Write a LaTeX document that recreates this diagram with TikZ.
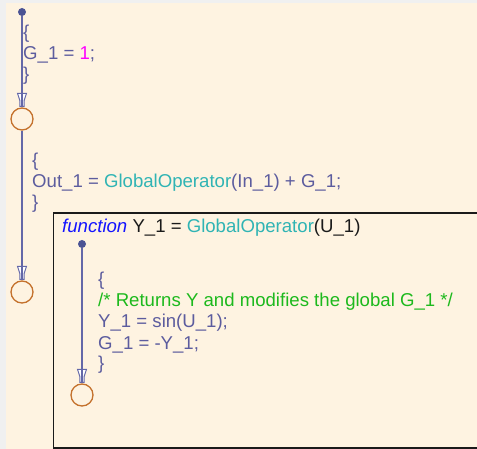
\documentclass[tikz,border=0pt]{standalone}
\usepackage{fontspec}
\setmainfont{Liberation Sans}
\definecolor{bggray}{HTML}{F0F0F0}
\definecolor{cream}{HTML}{FEF3E1}
\definecolor{codepurple}{HTML}{5C5C9E}
\definecolor{trblue}{HTML}{6468A8}
\definecolor{dotblue}{HTML}{4B5394}
\definecolor{juncorange}{HTML}{C4712C}
\definecolor{teal}{HTML}{30B4B4}
\definecolor{magen}{HTML}{FF00FF}
\definecolor{cgreen}{HTML}{1DB91D}
\definecolor{fnblue}{HTML}{1414FF}
\definecolor{boxblack}{HTML}{1A1A1A}
\begin{document}
\begin{tikzpicture}[x=1pt,y=-1pt,
  code/.style={anchor=base west, inner sep=0pt, text=codepurple, font=\fontsize{18.6}{21}\selectfont},
  defdot/.style={circle, fill=dotblue, inner sep=0pt, minimum size=8pt},
  junction/.style={circle, draw=juncorange, line width=1.3pt, inner sep=0pt, minimum size=22pt},
  trline/.style={draw=trblue, line width=1.3pt},
  funnel/.pic={\draw[draw=trblue, line width=1pt, fill=white] (-4.5,-14) -- (4.5,-14) -- (2.2,-7) -- (2.2,-1) -- (-2.2,-1) -- (-2.2,-7) -- cycle;}
]
\useasboundingbox (0,0) rectangle (477,449);
\fill[bggray] (0,0) rectangle (477,449);
\fill[cream] (6,3) rectangle (477,449);

% function box
\draw[boxblack, line width=1.8pt] (477,213) -- (53.5,213) -- (53.5,447.6) -- (477,447.6);

% nodes
\node[defdot] (s1) at (22,12) {};
\node[junction] (j1) at (22,119) {};
\node[junction] (j2) at (22,292) {};
\node[defdot] (s2) at (82,244) {};
\node[junction] (j3) at (82,395) {};

% funnels
\pic at (j1.north) {funnel};
\pic at (j2.north) {funnel};
\pic at (j3.north) {funnel};

% connectors
\draw[trline] (s1) -- (j1);
\draw[trline] (j1) -- (j2);
\draw[trline] (s2) -- (j3);

% text block 1
\node[code] (a1) at (23,39) {\{};
\node[code] (a2) at (23,60) {G\_1 = {\color{magen}1};};
\node[code] (a3) at (23,81) {\}};

% text block 2
\node[code] (b1) at (32,167) {\{};
\node[code] (b2) at (32,188) {Out\_1 = {\color{teal}GlobalOperator}(In\_1) + G\_1;};
\node[code] (b3) at (32,209) {\}};

% function label
\node[code, text=boxblack] (fl) at (62,233) {{\color{fnblue}\itshape function} Y\_1 = {\color{teal}GlobalOperator}(U\_1)};

% text block 3
\node[code] (c1) at (98,286) {\{};
\node[code, text=cgreen] (c2) at (98,307) {/* Returns Y and modifies the global G\_1 */};
\node[code] (c3) at (98,328) {Y\_1 = sin(U\_1);};
\node[code] (c4) at (98,349) {G\_1 = -Y\_1;};
\node[code] (c5) at (98,370) {\}};
\end{tikzpicture}
\end{document}
